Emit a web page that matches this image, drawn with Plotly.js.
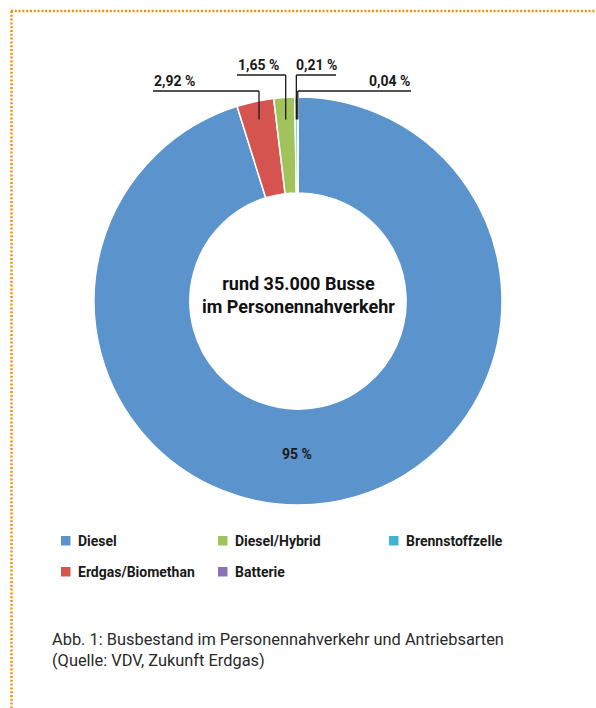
<!DOCTYPE html>
<html>
<head>
<meta charset="utf-8">
<script src="https://cdn.plot.ly/plotly-3.0.1.min.js"></script>
<style>
  html, body { margin: 0; padding: 0; background: #ffffff; }
  #chart { width: 596px; height: 708px; }
</style>
</head>
<body>
<div id="chart"></div>
<script>
// ---- data ----
const sliceLabels = ['Diesel', 'Erdgas/Biomethan', 'Diesel/Hybrid', 'Brennstoffzelle', 'Batterie'];
const sliceValues = [95, 2.92, 1.65, 0.21, 0.04];
const valueTexts = ['95 %', '2,92 %', '1,65 %', '0,21 %', '0,04 %'];
const legendOrder = ['Diesel', 'Diesel/Hybrid', 'Brennstoffzelle', 'Erdgas/Biomethan', 'Batterie'];
const centerText = 'rund 35.000 Busse<br>im Personennahverkehr';
const captionText = 'Abb. 1: Busbestand im Personennahverkehr und Antriebsarten<br>(Quelle: VDV, Zukunft Erdgas)';

// ---- style ----
const sliceColors = ['#5b94cd', '#d6544f', '#a2c35b', '#3db5d0', '#8b72b6'];
const W = 596, H = 708;
const CX = 298, CY = 301, R = 204;
const HOLE = 0.53;
const BOLD = 'Roboto, "Liberation Sans", sans-serif';
const REG = 'Roboto, "Liberation Sans", sans-serif';
const ORANGE = '#f39200';

const px = x => x / W;
const py = y => 1 - y / H;

// label layout for the small slices (index -> placement)
const labelLayout = {
  1: {lineY: 91, outerX: 153, side: 'left'},
  2: {lineY: 75, outerX: 237, side: 'left'},
  3: {lineY: 75, outerX: 336, side: 'right'},
  4: {lineY: 91, outerX: 411, side: 'right'}
};

const total = sliceValues.reduce((a, b) => a + b, 0);
const shapes = [];
const annotations = [];

// leader lines from slice mid-angles
let cum = 0;
const endY = CY - 0.89 * R;
sliceValues.forEach((v, i) => {
  const mid = (cum + v / 2) / total;
  cum += v;
  const L = labelLayout[i];
  if (!L) return;
  const theta = 2 * Math.PI * mid;
  const vx = CX + (CY - endY) * Math.tan(theta);
  shapes.push({type: 'line', xref: 'paper', yref: 'paper',
    x0: px(vx), x1: px(vx), y0: py(L.lineY), y1: py(endY),
    line: {color: '#1a1a1a', width: 1.3}});
  shapes.push({type: 'line', xref: 'paper', yref: 'paper',
    x0: px(L.outerX), x1: px(vx), y0: py(L.lineY), y1: py(L.lineY),
    line: {color: '#1a1a1a', width: 1.3}});
  let ax, anchor;
  if (L.side === 'left') { ax = L.outerX - 1; anchor = 'left'; }
  else if (L.outerX - vx < 50) { ax = vx - 2; anchor = 'left'; }
  else { ax = L.outerX + 1; anchor = 'right'; }
  annotations.push({xref: 'paper', yref: 'paper', x: px(ax), y: py(L.lineY - 10),
    xanchor: anchor, yanchor: 'middle', showarrow: false, text: valueTexts[i],
    font: {family: BOLD, size: 14, color: '#1a1a1a', weight: 'bold'}});
});

// big slice label
annotations.push({xref: 'paper', yref: 'paper', x: px(CX - 1), y: py(454),
  xanchor: 'center', yanchor: 'middle', showarrow: false, text: valueTexts[0],
  font: {family: BOLD, size: 14, color: '#1a1a1a', weight: 'bold'}});

// center text
annotations.push({xref: 'paper', yref: 'paper', x: px(CX), y: py(295),
  xanchor: 'center', yanchor: 'middle', showarrow: false, text: centerText,
  font: {family: BOLD, size: 18, color: '#111111', weight: 'bold'}});

// custom legend (row-major, 3 columns)
const legColX = [61, 218, 389];
const legRowY = [541, 572];
legendOrder.forEach((name, k) => {
  const col = k % 3, row = Math.floor(k / 3);
  const idx = sliceLabels.indexOf(name);
  const x = legColX[col], y = legRowY[row];
  shapes.push({type: 'rect', xref: 'paper', yref: 'paper',
    x0: px(x), x1: px(x + 9.5), y0: py(y - 5), y1: py(y + 4.5),
    fillcolor: sliceColors[idx], line: {width: 0}});
  annotations.push({xref: 'paper', yref: 'paper', x: px(x + 15), y: py(y),
    xanchor: 'left', yanchor: 'middle', showarrow: false, text: name,
    font: {family: BOLD, size: 14, color: '#1a1a1a', weight: 'bold'}});
});

// caption
annotations.push({xref: 'paper', yref: 'paper', x: px(50), y: py(650),
  xanchor: 'left', yanchor: 'middle', align: 'left', showarrow: false, text: captionText,
  font: {family: REG, size: 16.4, color: '#2a2a2a'}});

// dotted frame
shapes.push({type: 'line', xref: 'paper', yref: 'paper', x0: px(11), x1: 1, y0: py(11), y1: py(11),
  line: {color: ORANGE, width: 2.5, dash: '2px,1.8px'}});
shapes.push({type: 'line', xref: 'paper', yref: 'paper', x0: px(11.5), x1: px(11.5), y0: py(11), y1: 0,
  line: {color: ORANGE, width: 2.5, dash: '2px,1.8px'}});

const trace = {
  type: 'pie',
  labels: sliceLabels,
  values: sliceValues,
  sort: false,
  direction: 'clockwise',
  rotation: 0,
  hole: HOLE,
  textinfo: 'none',
  hoverinfo: 'label+percent',
  showlegend: false,
  marker: {colors: sliceColors, line: {color: '#ffffff', width: 1.5}},
  domain: {x: [px(CX - R), px(CX + R)], y: [py(CY + R), py(CY - R)]}
};

const layout = {
  width: W, height: H,
  margin: {l: 0, r: 0, t: 0, b: 0},
  paper_bgcolor: '#ffffff',
  showlegend: false,
  shapes: shapes,
  annotations: annotations
};

Plotly.newPlot('chart', [trace], layout, {displayModeBar: false, staticPlot: true});
</script>
</body>
</html>
